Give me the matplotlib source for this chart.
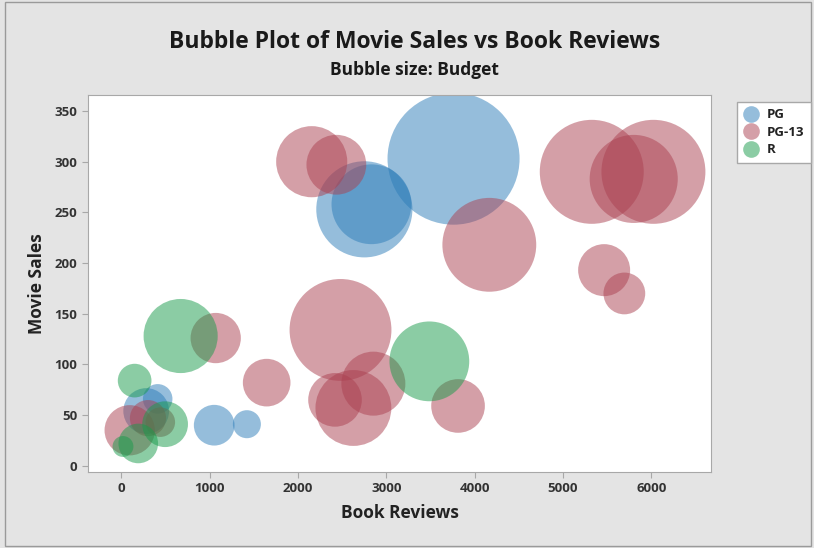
import matplotlib
matplotlib.use("Agg")
import matplotlib.pyplot as plt
from matplotlib.lines import Line2D
from matplotlib.patches import Rectangle

plt.rcParams['font.family'] = ['Open Sans', 'DejaVu Sans']

# PG
pg_reviews = [3760, 2750, 2830, 1050, 1420, 280, 410]
pg_sales = [303, 253, 258, 40, 41, 54, 66]
pg_budget = [200, 106, 73, 19, 9, 24, 10]

# PG-13
pg13_reviews = [5325, 6023, 5800, 5465, 5694, 4165, 2154, 2433, 2480, 1067,
                1644, 2418, 2626, 2852, 3811, 93, 440, 300]
pg13_sales = [290, 290, 283, 193, 170, 218, 300, 297, 134, 126,
              82, 65, 57, 81, 59, 35, 43, 47]
pg13_budget = [124, 124, 89, 31, 20, 101, 58, 41, 119, 29,
               26, 33, 66, 47, 33, 29, 10, 15]

# R
r_reviews = [670, 3486, 149, 494, 190, 17]
r_sales = [128, 103, 84, 41, 22, 19]
r_budget = [63, 73, 13, 24, 18, 5]

size_k = 45.2  # points^2 per budget unit

col_pg = '#2d7db9'
col_pg13 = '#ab4151'
col_r = '#199b4b'

fig = plt.figure(figsize=(8.14, 5.48), dpi=100)
fig.patch.set_facecolor('#e4e4e4')
fig.patches.append(Rectangle((0.006, 0.004), 0.99, 0.992, transform=fig.transFigure,
                             fill=False, edgecolor='#9a9a9a', lw=1))

ax = fig.add_axes([0.108, 0.139, 0.766, 0.688])
ax.set_facecolor('white')

ax.scatter(pg_reviews, pg_sales, s=[b * size_k for b in pg_budget], color=col_pg,
           alpha=0.5, edgecolors='none', zorder=2)
ax.scatter(pg13_reviews, pg13_sales, s=[b * size_k for b in pg13_budget], color=col_pg13,
           alpha=0.5, edgecolors='none', zorder=2)
ax.scatter(r_reviews, r_sales, s=[b * size_k for b in r_budget], color=col_r,
           alpha=0.5, edgecolors='none', zorder=2)

ax.set_xlim(-380, 6680)
ax.set_ylim(-6, 366)
ax.set_xticks(range(0, 7000, 1000))
ax.set_yticks(range(0, 400, 50))

for sp in ax.spines.values():
    sp.set_color('#a8a8a8')
ax.tick_params(direction='out', length=4, color='#a8a8a8', labelsize=9.5,
               labelcolor='#333333')
for lab in ax.get_xticklabels() + ax.get_yticklabels():
    lab.set_fontweight('bold')

ax.set_xlabel('Book Reviews', fontsize=12.5, fontweight='bold', color='#222222', labelpad=6)
ax.set_ylabel('Movie Sales', fontsize=12.5, fontweight='bold', color='#222222', labelpad=6)

fig.text(0.509, 0.923, 'Bubble Plot of Movie Sales vs Book Reviews', ha='center', va='center',
         fontsize=16.5, fontweight='bold', color='#1a1a1a')
fig.text(0.509, 0.872, 'Bubble size: Budget', ha='center', va='center',
         fontsize=12.5, fontweight='bold', color='#1a1a1a')

handles = [Line2D([], [], marker='o', ls='none', markersize=12, color=c, alpha=0.5,
                  markeredgewidth=0) for c in (col_pg, col_pg13, col_r)]
leg = fig.legend(handles, ['PG', 'PG-13', 'R'], loc='upper left',
                 bbox_to_anchor=(730 / 814, 1 - 95 / 548), fancybox=False,
                 edgecolor='#a8a8a8', framealpha=1, fontsize=9.5, handlelength=1.2,
                 handletextpad=0.6, borderpad=0.5, labelspacing=0.35)
for t in leg.get_texts():
    t.set_fontweight('bold')
    t.set_color('#222222')

fig.savefig('out.png', dpi=100, facecolor=fig.get_facecolor())
